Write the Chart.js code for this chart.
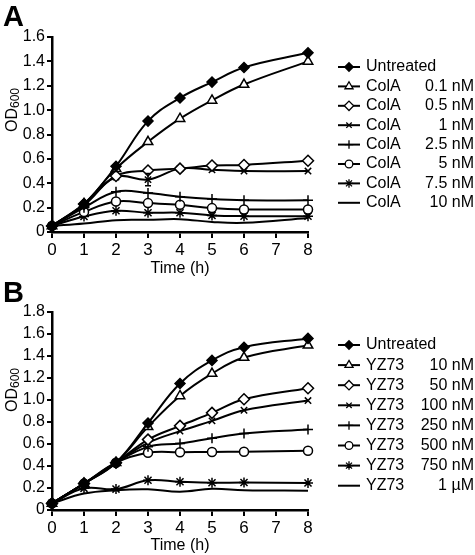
<!DOCTYPE html>
<html>
<head>
<meta charset="utf-8">
<script src="https://cdn.jsdelivr.net/npm/chart.js@4.4.0/dist/chart.umd.min.js"></script>
<style>
body { margin: 0; background: #fff; }
#wrap { position: relative; width: 475px; height: 555px; font-family: "Liberation Sans", Arial, sans-serif; }
canvas { position: absolute; left: 0; }
.panel { position: absolute; left: 3px; font-weight: bold; font-size: 29px; line-height: 29px; }
.ytitle { position: absolute; font-size: 16px; white-space: nowrap; transform: translate(-50%, -50%) rotate(-90deg); }
.ytitle sub { font-size: 12px; vertical-align: -2px; }
</style>
</head>
<body>
<div id="wrap">
  <canvas id="chartA" width="475" height="278" style="top:0"></canvas>
  <canvas id="chartB" width="475" height="277" style="top:278px"></canvas>
  <div class="panel" style="top:2px">A</div>
  <div class="panel" style="top:278px">B</div>
  <div class="ytitle" style="left:12px;top:110px">OD<sub>600</sub></div>
  <div class="ytitle" style="left:12px;top:390px">OD<sub>600</sub></div>
</div>
<script>
// time points (h), no reading at 7 h
var times = [0, 1, 2, 3, 4, 5, 6, 8];

// panel A - ColA
var namesA = ['Untreated', 'ColA', 'ColA', 'ColA', 'ColA', 'ColA', 'ColA', 'ColA'];
var dosesA = ['', '0.1 nM', '0.5 nM', '1 nM', '2.5 nM', '5 nM', '7.5 nM', '10 nM'];
var untreatedA = [0.05, 0.23, 0.54, 0.91, 1.10, 1.23, 1.35, 1.47];
var colA01 = [0.05, 0.23, 0.52, 0.74, 0.93, 1.08, 1.21, 1.40];
var colA05 = [0.05, 0.23, 0.46, 0.505, 0.52, 0.545, 0.55, 0.585];
var colA1 = [0.05, 0.22, 0.45, 0.43, 0.52, 0.51, 0.50, 0.50];
var colA25 = [0.05, 0.20, 0.33, 0.32, 0.29, 0.27, 0.26, 0.26];
var colA5 = [0.05, 0.165, 0.25, 0.237, 0.223, 0.196, 0.185, 0.185];
var colA75 = [0.05, 0.127, 0.174, 0.158, 0.158, 0.136, 0.13, 0.13];
var colA10 = [0.05, 0.07, 0.097, 0.10, 0.105, 0.082, 0.075, 0.115];
var errA1 = [0, 0, 0, 0.05, 0, 0, 0, 0];

// panel B - YZ73
var namesB = ['Untreated', 'YZ73', 'YZ73', 'YZ73', 'YZ73', 'YZ73', 'YZ73', 'YZ73'];
var dosesB = ['', '10 nM', '50 nM', '100 nM', '250 nM', '500 nM', '750 nM', '1 \u00b5M'];
var untreatedB = [0.06, 0.24, 0.43, 0.79, 1.15, 1.36, 1.48, 1.56];
var yz10 = [0.06, 0.24, 0.43, 0.756, 1.037, 1.24, 1.386, 1.497];
var yz50 = [0.06, 0.24, 0.43, 0.64, 0.765, 0.883, 1.007, 1.107];
var yz100 = [0.06, 0.24, 0.43, 0.61, 0.717, 0.81, 0.907, 0.995];
var yz250 = [0.06, 0.24, 0.43, 0.574, 0.605, 0.653, 0.696, 0.732];
var yz500 = [0.06, 0.24, 0.43, 0.52, 0.525, 0.528, 0.53, 0.538];
var yz750 = [0.06, 0.197, 0.19, 0.27, 0.257, 0.248, 0.25, 0.245];
var yz1000 = [0.06, 0.15, 0.18, 0.188, 0.166, 0.193, 0.18, 0.175];

// marker look per series (same order in both panels)
var markers = [
  { style: 'rectRot', r: 5, fill: '#000' },
  { style: 'triangle', r: 5.5, fill: '#fff' },
  { style: 'rectRot', r: 5.5, fill: '#fff' },
  { style: 'crossRot', r: 4.5, fill: '#fff' },
  { style: 'cross', r: 5, fill: '#fff' },
  { style: 'circle', r: 4.5, fill: '#fff' },
  { style: 'star', r: 5, fill: '#fff' },
  { style: 'circle', r: 0, fill: '#fff' }
];

var FONT = '"Liberation Sans", Arial, sans-serif';

function toPoints(vals) {
  return vals.map(function (v, i) { return { x: times[i], y: v }; });
}

function makeSets(names, doses, series, errs) {
  return series.map(function (vals, i) {
    var m = markers[i];
    return {
      label: names[i] + ' ' + doses[i],
      data: toPoints(vals),
      errorBars: errs[i] || null,
      borderColor: '#000',
      borderWidth: 2,
      tension: 0.4,
      pointStyle: m.style,
      pointRadius: m.r,
      pointHoverRadius: m.r,
      pointBackgroundColor: m.fill,
      pointBorderColor: '#000',
      pointBorderWidth: 1.5,
      clip: false
    };
  });
}

// legend drawn on the right side
var sideLegend = {
  id: 'sideLegend',
  afterDraw: function (chart, args, opts) {
    var ctx = chart.ctx;
    ctx.save();
    ctx.font = '16px ' + FONT;
    ctx.textBaseline = 'middle';
    chart.data.datasets.forEach(function (ds, i) {
      var y = opts.top + i * opts.gap;
      ctx.strokeStyle = '#000';
      ctx.lineWidth = 2;
      ctx.beginPath();
      ctx.moveTo(opts.left, y);
      ctx.lineTo(opts.left + 22, y);
      ctx.stroke();
      if (ds.pointRadius > 0) {
        ctx.fillStyle = ds.pointBackgroundColor;
        ctx.lineWidth = 1.3;
        Chart.helpers.drawPoint(ctx, { pointStyle: ds.pointStyle, radius: ds.pointRadius * 0.85, rotation: 0, borderWidth: 1.3 }, opts.left + 11, y);
      }
      ctx.fillStyle = '#000';
      ctx.textAlign = 'left';
      ctx.fillText(opts.names[i], opts.left + 28, y);
      ctx.textAlign = 'right';
      ctx.fillText(opts.doses[i], opts.right, y);
    });
    ctx.restore();
  }
};

var errorBars = {
  id: 'errorBars',
  afterDatasetsDraw: function (chart) {
    var ctx = chart.ctx;
    var xs = chart.scales.x, ys = chart.scales.y;
    ctx.save();
    ctx.strokeStyle = '#000';
    ctx.lineWidth = 1.5;
    chart.data.datasets.forEach(function (ds) {
      if (!ds.errorBars) return;
      ds.data.forEach(function (p, i) {
        var e = ds.errorBars[i];
        if (!e) return;
        var px = xs.getPixelForValue(p.x);
        var top = ys.getPixelForValue(p.y + e), bot = ys.getPixelForValue(p.y - e);
        ctx.beginPath();
        ctx.moveTo(px, top); ctx.lineTo(px, bot);
        ctx.moveTo(px - 3, top); ctx.lineTo(px + 3, top);
        ctx.moveTo(px - 3, bot); ctx.lineTo(px + 3, bot);
        ctx.stroke();
      });
    });
    ctx.restore();
  }
};

function makeChart(id, sets, yMax, padTop, xHeight, legendTop, legendGap, names, doses) {
  return new Chart(document.getElementById(id), {
    type: 'line',
    data: { datasets: sets },
    plugins: [errorBars, sideLegend],
    options: {
      responsive: false,
      animation: false,
      layout: { padding: { top: padTop, right: 167, left: 0, bottom: 0 } },
      plugins: {
        legend: { display: false },
        tooltip: { enabled: false },
        sideLegend: { left: 338, right: 474, top: legendTop, gap: legendGap, names: names, doses: doses }
      },
      scales: {
        x: {
          type: 'linear', min: 0, max: 8,
          ticks: { stepSize: 1, autoSkip: false, color: '#000', font: { size: 17, family: FONT }, padding: 2, maxRotation: 0 },
          grid: { drawOnChartArea: false, color: '#000', lineWidth: 2, tickLength: 6 },
          border: { color: '#000', width: 2.5 },
          title: { display: true, text: 'Time (h)', color: '#000', font: { size: 16, family: FONT }, padding: { top: 0, bottom: 0 } },
          afterFit: function (s) { s.height = xHeight; }
        },
        y: {
          min: 0, max: yMax,
          ticks: {
            stepSize: 0.2, autoSkip: false, color: '#000', font: { size: 16, family: FONT }, padding: 2,
            callback: function (v) { return v === 0 ? '0' : v.toFixed(1); }
          },
          grid: { drawOnChartArea: false, color: '#000', lineWidth: 2, tickLength: 5 },
          border: { color: '#000', width: 2.5 },
          afterFit: function (s) { s.width = 52; }
        }
      }
    }
  });
}

var setsA = makeSets(namesA, dosesA,
  [untreatedA, colA01, colA05, colA1, colA25, colA5, colA75, colA10],
  [null, null, null, errA1]);
var setsB = makeSets(namesB, dosesB,
  [untreatedB, yz10, yz50, yz100, yz250, yz500, yz750, yz1000], []);

makeChart('chartA', setsA, 1.6, 37, 46, 67, 19.4, namesA, dosesA);
makeChart('chartB', setsB, 1.8, 34, 45, 67, 20.1, namesB, dosesB);
</script>
</body>
</html>
